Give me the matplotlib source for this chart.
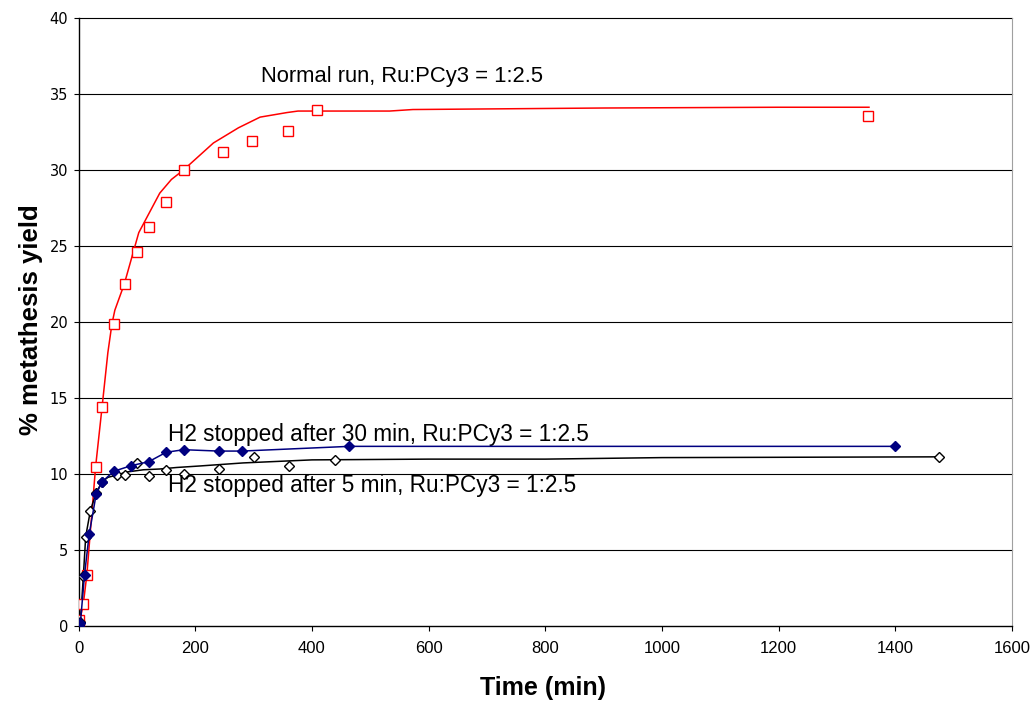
import matplotlib.pyplot as plt

plt.rcParams['font.family'] = ['Liberation Sans', 'DejaVu Sans']

# normal run, measured points and fitted curve
red_t = [0, 1, 8, 14, 29, 40, 60, 80, 100, 120, 150, 180, 248, 297, 359, 408, 1353]
red_y = [0.1, 0.4, 1.5, 3.4, 10.5, 14.4, 19.9, 22.5, 24.6, 26.3, 27.9, 30.0, 31.2, 31.9, 32.6, 34.0, 33.6]
red_fit_t = [0, 2, 8, 14, 29, 40, 50, 57, 62, 78, 103, 139, 159, 179, 231, 274, 311,
             357, 376, 533, 573, 900, 1200, 1355]
red_fit_y = [0, 0.4, 1.5, 3.4, 10.5, 14.4, 18.0, 19.9, 20.8, 22.5, 25.9, 28.5, 29.4,
             30.0, 31.8, 32.8, 33.5, 33.8, 33.9, 33.9, 34.0, 34.1, 34.15, 34.15]

# H2 stopped after 30 min
blue_t = [0, 3, 10, 18, 30, 40, 60, 90, 120, 150, 180, 240, 280, 464, 1400]
blue_y = [0.0, 0.25, 3.4, 6.05, 8.7, 9.5, 10.2, 10.57, 10.83, 11.45, 11.62, 11.53, 11.53, 11.84, 11.84]

# H2 stopped after 5 min, measured points and fitted curve
black_t = [0, 3, 8, 12, 20, 30, 40, 65, 80, 100, 120, 150, 180, 240, 300, 360, 440, 1475]
black_y = [0.1, 0.3, 3.3, 5.9, 7.6, 8.8, 9.5, 9.97, 9.93, 10.74, 9.91, 10.26, 10.04,
           10.33, 11.14, 10.57, 10.94, 11.12]
black_fit_t = [0, 3, 8, 12, 20, 30, 40, 50, 65, 82, 111, 139, 168, 208, 282, 400,
               600, 800, 1000, 1200, 1475]
black_fit_y = [0, 0.3, 3.3, 5.9, 7.6, 8.8, 9.5, 9.8, 9.95, 10.15, 10.3, 10.35, 10.45,
               10.55, 10.75, 10.95, 11.0, 11.0, 11.1, 11.12, 11.15]

fig = plt.figure(figsize=(10.3, 7.05), dpi=100)
ax = fig.add_axes([0.0764, 0.1116, 0.906, 0.8624])

for y in range(5, 41, 5):
    ax.axhline(y, color='black', lw=0.8, zorder=0, clip_on=False)

ax.plot(red_fit_t, red_fit_y, color='red', lw=1.1, zorder=2)
ax.plot(red_t, red_y, ls='none', marker='s', ms=6.5, mfc='white', mec='red', mew=1.0, zorder=3)

ax.plot(black_fit_t, black_fit_y, color='black', lw=1.1, zorder=2)
ax.plot(black_t, black_y, ls='none', marker='D', ms=5, mfc='white', mec='black', mew=1.0, zorder=3)

ax.plot(blue_t, blue_y, color='#000080', lw=1.1, marker='D', ms=5.5, mfc='#000080',
        mec='#000080', zorder=4)

ax.text(312, 36.2, 'Normal run, Ru:PCy3 = 1:2.5', fontsize=15.8, va='center', ha='left')
ax.text(153, 12.65, 'H2 stopped after 30 min, Ru:PCy3 = 1:2.5', fontsize=16.3, va='center', ha='left')
ax.text(153, 9.24, 'H2 stopped after 5 min, Ru:PCy3 = 1:2.5', fontsize=16.3, va='center', ha='left')

ax.set_xlim(0, 1600)
ax.set_ylim(0, 40)
ax.set_xticks(range(0, 1601, 200))
ax.set_yticks(range(0, 41, 5))
ax.tick_params(length=3.5, width=0.8, direction='out', pad=4)
ax.tick_params(axis='x', pad=7)
for lab in ax.get_xticklabels():
    lab.set_fontsize(12)
for lab in ax.get_yticklabels():
    lab.set_fontfamily('DejaVu Sans')
    lab.set_fontsize(10.5)

ax.spines['top'].set_visible(False)
ax.spines['right'].set_color('#a0a0a0')
ax.spines['left'].set_linewidth(1.0)
ax.spines['bottom'].set_linewidth(1.0)

fig.text(0.527, 0.024, 'Time (min)', fontsize=18, fontweight='bold', ha='center', va='center')
fig.text(0.030, 0.546, '% metathesis yield', fontsize=18.5, fontweight='bold',
         rotation=90, ha='center', va='center')

fig.savefig('out.png', dpi=100)
